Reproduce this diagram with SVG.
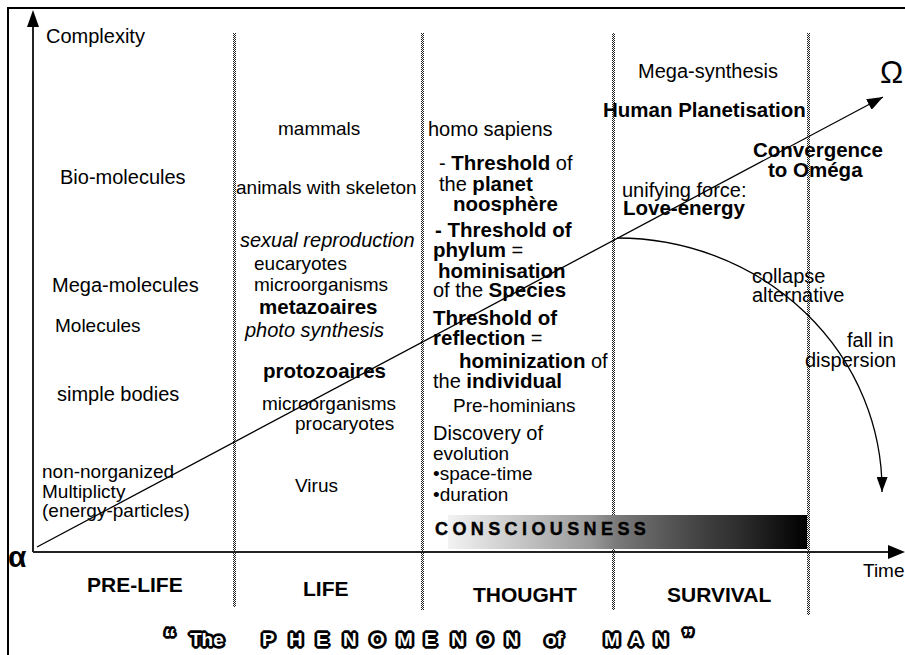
<svg xmlns="http://www.w3.org/2000/svg" width="905" height="655" viewBox="0 0 905 655">
<defs>
<style>
text{font-family:"Liberation Sans",Arial,sans-serif;fill:#000}
.n19{font-size:19px}
.n20{font-size:20px}
.it{font-size:20px;font-style:italic}
.b{font-weight:bold;font-size:20.5px}
.lab{font-weight:bold;font-size:21px}
.ttl{font-weight:bold;font-size:19px;fill:#fff;stroke:#000;stroke-width:5.5;paint-order:stroke;stroke-linejoin:miter;stroke-miterlimit:1.2}
.ax{stroke:#222;stroke-width:2;fill:none}
.conn{stroke:#000;stroke-width:1.3;fill:none}
</style>
<pattern id="dot" width="2" height="2" patternUnits="userSpaceOnUse">
<rect x="0" y="0" width="1" height="1" fill="#222"/>
<rect x="1" y="1" width="1" height="1" fill="#222"/>
</pattern>
<linearGradient id="cons" x1="448" y1="0" x2="807" y2="0" gradientUnits="userSpaceOnUse">
<stop offset="0" stop-color="#f2f2f2"/>
<stop offset="0.13" stop-color="#d6d6d6"/>
<stop offset="0.2" stop-color="#c6c6c6"/>
<stop offset="0.33" stop-color="#a8a8a8"/>
<stop offset="0.4" stop-color="#999"/>
<stop offset="0.47" stop-color="#7a7a7a"/>
<stop offset="0.55" stop-color="#666"/>
<stop offset="0.62" stop-color="#555"/>
<stop offset="0.73" stop-color="#3c3c3c"/>
<stop offset="0.8" stop-color="#303030"/>
<stop offset="0.93" stop-color="#111"/>
<stop offset="1" stop-color="#000"/>
</linearGradient>
<marker id="ah" markerUnits="userSpaceOnUse" markerWidth="16" markerHeight="12" refX="16" refY="6" orient="auto">
<path d="M0,0 L16,6 L0,12 z" fill="#000"/>
</marker>
<marker id="ah2" markerUnits="userSpaceOnUse" markerWidth="15" markerHeight="11" refX="15" refY="5.5" orient="auto">
<path d="M0,0 L15,5.5 L0,11 z" fill="#000"/>
</marker>
</defs>
<rect width="905" height="655" fill="#fff"/>

<g id="frame">
<path d="M8,655 V8 H905" stroke="#000" stroke-width="2" fill="none"/>
</g>

<g id="separators">
<rect x="233" y="33" width="3" height="574" fill="url(#dot)"/>
<rect x="421" y="33" width="3" height="577" fill="url(#dot)"/>
<rect x="612" y="33" width="3" height="577" fill="url(#dot)"/>
<rect x="807" y="33" width="3" height="582" fill="url(#dot)"/>
</g>

<g id="consciousness">
<rect x="448" y="515" width="359" height="34" fill="url(#cons)"/>
<text x="435" y="535" font-weight="bold" font-size="18" letter-spacing="4.4" stroke="#000" stroke-width="0.4">CONSCIOUSNESS</text>
</g>

<g id="axes">
<line class="ax" x1="33" y1="552" x2="33" y2="24"/>
<polygon points="33,10 27,27 39,27" fill="#000"/>
<line class="ax" x1="33" y1="552" x2="890" y2="552"/>
<polygon points="888,545 905,552 888,559" fill="#000"/>
<text class="n20" x="46" y="43" fill="#222">Complexity</text>
<text x="880" y="83" font-size="31">Ω</text>
<text x="8" y="567" font-size="30" font-weight="bold">α</text>
<text class="n19" x="863" y="577">Time</text>
</g>

<g id="connectors">
<line class="conn" x1="37" y1="547" x2="883" y2="97" marker-end="url(#ah)"/>
<path class="conn" d="M617,238 A265,252 0 0 1 882,492" stroke-width="1.6" marker-end="url(#ah2)"/>
</g>

<g id="prelife">
<text class="n20" x="60" y="184">Bio-molecules</text>
<text class="n20" x="52" y="292">Mega-molecules</text>
<text class="n19" x="55" y="332">Molecules</text>
<text class="n20" x="57" y="401">simple bodies</text>
<text class="n19" x="42" y="478">non-norganized</text>
<text class="n19" x="42" y="498">Multiplicty</text>
<text class="n19" x="42" y="517">(energy-particles)</text>
</g>

<g id="life">
<text class="n19" x="278" y="135">mammals</text>
<text class="n19" x="236" y="194">animals with skeleton</text>
<text class="it" x="240" y="247">sexual reproduction</text>
<text class="n19" x="254" y="270">eucaryotes</text>
<text class="n19" x="254" y="291">microorganisms</text>
<text class="b" x="259" y="314">metazoaires</text>
<text class="it" x="245" y="337">photo synthesis</text>
<text class="b" x="263" y="378">protozoaires</text>
<text class="n19" x="262" y="410">microorganisms</text>
<text class="n19" x="295" y="430">procaryotes</text>
<text class="n19" x="295" y="492">Virus</text>
</g>

<g id="thought">
<text class="n20" x="428" y="136">homo sapiens</text>
<text class="n20" x="439" y="170">- <tspan class="b">Threshold</tspan> of</text>
<text class="n20" x="439" y="191">the <tspan class="b">planet</tspan></text>
<text class="b" x="453" y="211">noosphère</text>
<text class="b" x="435" y="237">- Threshold of</text>
<text class="n20" x="433" y="257"><tspan class="b">phylum</tspan> =</text>
<text class="b" x="438" y="278">hominisation</text>
<text class="n20" x="433" y="297">of the <tspan class="b">Species</tspan></text>
<text class="b" x="433" y="325">Threshold of</text>
<text class="n20" x="433" y="345"><tspan class="b">reflection</tspan> =</text>
<text class="n20" x="459" y="368"><tspan class="b">hominization</tspan> of</text>
<text class="n20" x="433" y="388">the <tspan class="b">individual</tspan></text>
<text class="n19" x="453" y="412">Pre-hominians</text>
<text class="n20" x="433" y="440">Discovery of</text>
<text class="n19" x="433" y="460">evolution</text>
<text class="n19" x="433" y="480">•space-time</text>
<text class="n19" x="433" y="501">•duration</text>
</g>

<g id="survival">
<text class="n20" x="638" y="78">Mega-synthesis</text>
<text class="b" x="603" y="117">Human Planetisation</text>
<text class="b" x="753" y="157">Convergence</text>
<text class="b" x="768" y="177">to Oméga</text>
<text class="n20" x="622" y="197">unifying force:</text>
<text class="b" x="623" y="215">Love-energy</text>
<text class="n20" x="752" y="283">collapse</text>
<text class="n20" x="752" y="302">alternative</text>
<text class="n20" x="847" y="347">fall in</text>
<text class="n20" x="805" y="367">dispersion</text>
</g>

<g id="eras">
<text class="lab" x="87" y="592">PRE-LIFE</text>
<text class="lab" x="303" y="596">LIFE</text>
<text class="lab" x="473" y="602">THOUGHT</text>
<text class="lab" x="667" y="602">SURVIVAL</text>
</g>

<g id="title">
<text class="ttl" y="646"><tspan x="164" font-size="24">“</tspan><tspan x="190">The</tspan><tspan x="262 289 316 343 370 397 424 451 478 505">PHENOMENON</tspan><tspan x="545">of</tspan><tspan x="604 629 654">MAN</tspan><tspan x="682" font-size="24">”</tspan></text>
</g>
</svg>
